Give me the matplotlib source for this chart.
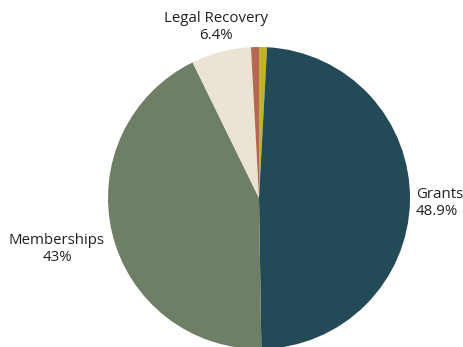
import matplotlib.pyplot as plt

# Revenue shares (clockwise from 12 o'clock)
categories = ['Other', 'Grants', 'Memberships', 'Legal Recovery', 'Donations']
shares = [0.85, 48.9, 43.0, 6.4, 0.85]
label_text = ['', 'Grants\n48.9%', 'Memberships\n43%', 'Legal Recovery\n6.4%', '']
colors = ['#c2b42a', '#234a57', '#6e7f65', '#ebe3d4', '#b5694f']

plt.rcParams['font.family'] = ['Open Sans', 'DejaVu Sans']

fig = plt.figure(figsize=(4.64, 3.47), dpi=100)
ax = fig.add_axes([0, 0, 1, 1])

ax.pie(shares, colors=colors, startangle=90, counterclock=False,
       center=(259, 149), radius=151, frame=True,
       wedgeprops=dict(linewidth=0))
ax.set_xlim(0, 464)
ax.set_ylim(0, 347)
ax.set_aspect('equal')
ax.axis('off')

# slice labels
ax.text(416, 144, label_text[1], ha='left', va='center', fontsize=10.8,
        color='#222222', linespacing=1.25)
ax.text(57, 98, label_text[2], ha='center', va='center', fontsize=10.8,
        color='#222222', linespacing=1.25)
ax.text(216, 320, label_text[3], ha='center', va='center', fontsize=10.8,
        color='#222222', linespacing=1.25)

fig.savefig('out.png', dpi=100)
